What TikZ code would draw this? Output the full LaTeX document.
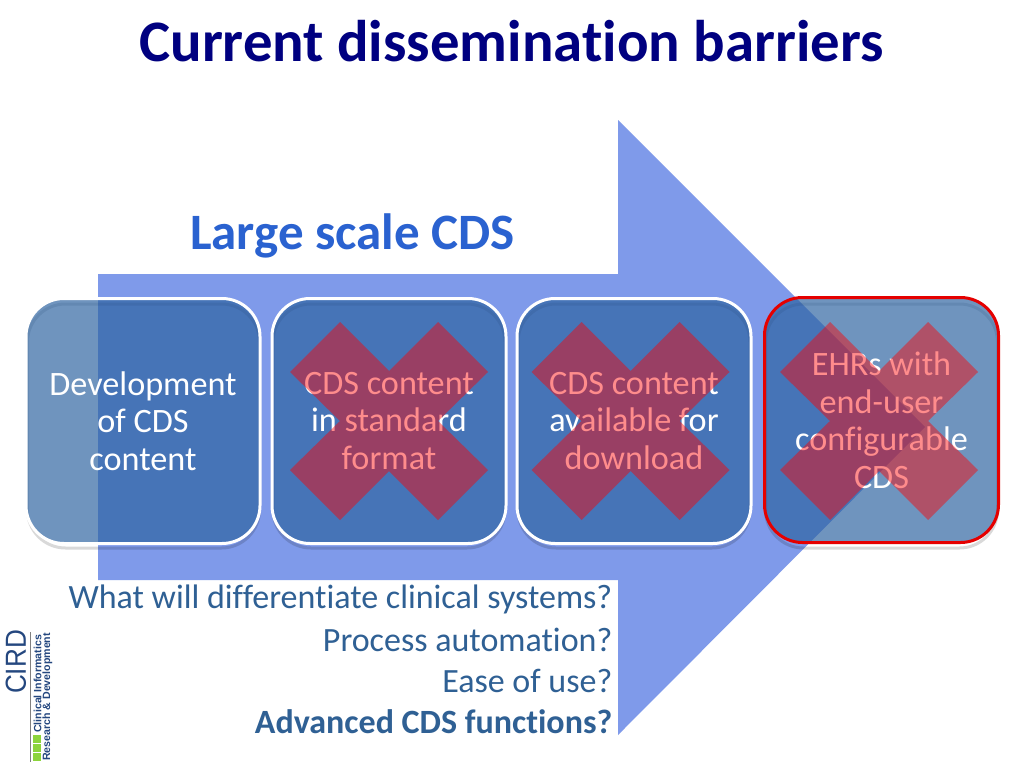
\documentclass[tikz,border=0pt]{standalone}
\usepackage{fontspec}
\setmainfont[Ligatures=NoCommon]{Carlito}
\newfontfamily\logofont{Liberation Sans}
\definecolor{titleblue}{HTML}{000080}
\definecolor{headblue}{HTML}{2A62D0}
\definecolor{askblue}{HTML}{2F6094}
\definecolor{arrowblue}{HTML}{7F9AEA}
\definecolor{boxblue}{HTML}{2C62A0}
\definecolor{logoblue}{HTML}{24477F}
\definecolor{logogreen}{HTML}{8CD43C}
\begin{document}
\begin{tikzpicture}[x=1pt,y=-1pt]

\tikzset{%
every stage/.style={
rectangle,
rounded corners=38pt,
draw=white,
line width=3pt,
fill=boxblue,
fill opacity=0.68,
text opacity=1,
text=white,
align=center,
minimum width=234pt,
minimum height=245pt,
font=\fontsize{34.2}{37.5}\selectfont
},
stage 4/.style={
draw=red!90!black
},
stage shadow/.style={
draw=black,
draw opacity=0.15,
line width=3pt,
rounded corners=38pt
},
cross mark/.style={
fill=red,
fill opacity=0.45
},
logo line/.style={
rotate=90,
anchor=west,
text=logoblue,
inner sep=0pt,
font=\logofont\bfseries\fontsize{10.6}{11}\selectfont
}
}

\useasboundingbox (0,0) rectangle (1024,768);
\fill [white] (0,0) rectangle (1024,768);

% Big arrow behind the boxes
\fill [arrowblue] (98,274) -- (618,274) -- (618,120) -- (925,427) -- (618,735) -- (618,580) -- (98,580) -- cycle;

% Title and heading
\node [text=titleblue, font=\bfseries\fontsize{58.8}{66}\selectfont] (title) at (511.5,41) {Current dissemination barriers};
\node [text=headblue, font=\bfseries\fontsize{51}{58}\selectfont] (heading) at (352.5,236) {Large scale CDS};

% Shadows of the boxes
\foreach \x in {143.5,389,634,881.5}
\draw [stage shadow] (\x-116,304) rectangle (\x+116,548);

% Stage boxes
\foreach \x/\y/\l [count=\i] in {143/421/{Development\\of CDS\\content},389/421/{CDS content\\in standard\\format},634/421/{CDS content\\available for\\download},881.5/420/{EHRs with\\end-user\\configurable\\CDS}}
\node [every stage/.try, stage \i/.try] (stage-\i) at (\x,\y) {\l};

% Crosses over the last three boxes
\foreach \x [count=\i from 2] in {389,630.5,879}
\fill [cross mark, shift={(\x,421)}] (-99,-49) -- (-49,-99) -- (0,-50) -- (49,-99) -- (99,-49) -- (49,0) -- (99,49) -- (49,99) -- (0,50) -- (-49,99) -- (-99,49) -- (-49,0) -- cycle;

% Questions under the arrow shaft
\foreach \l/\y/\f in {What will differentiate clinical systems?/599/\mdseries,Process automation?/640/\mdseries,Ease of use?/681/\mdseries,Advanced CDS functions?/722/\bfseries}
\node [anchor=east, inner sep=0pt, text=askblue, font=\f\fontsize{34}{40}\selectfont] (ask-\y) at (612.5,\y) {\l};

% Logo
\node [rotate=90, xscale=0.9, text=logoblue, inner sep=0pt, font=\logofont\fontsize{29}{30}\selectfont] (logo-name) at (16,662) {CIRD};
\draw [gray, line width=1pt] (30.5,632) -- (30.5,762);
\foreach \y in {735,744,753}
\fill [logogreen] (32.5,\y) rectangle (40.5,\y+8);
\node [logo line] (logo-top) at (37.5,733) {Clinical Informatics};
\node [logo line] (logo-bottom) at (47.5,761) {Research \& Development};

\end{tikzpicture}
\end{document}
